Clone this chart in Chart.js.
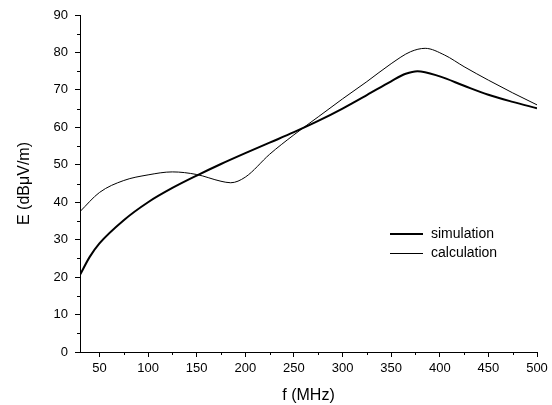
<!DOCTYPE html>
<html>
  <head>
    <title>E vs f</title>
    <script src="https://cdn.jsdelivr.net/npm/chart.js@4/dist/chart.umd.min.js"></script>
  </head>

  <style>
body {
  margin: 0;
  background: #fff;
}

.wrapper {
  width: 552px;
  height: 405px;
}
  </style>

  <body>
    <div class="wrapper">
      <canvas id="myChart" width="552" height="405"></canvas>
    </div>

    <script>

// frequencies (MHz)
var freqSim = [30, 40, 50, 75, 100, 125, 150, 175, 200, 225, 250, 275, 300, 325, 350, 365, 377, 400, 425, 450, 475, 500];
var simulation = [20.6, 25.4, 29.0, 35.2, 40.0, 43.8, 47.1, 50.2, 53.1, 55.9, 58.7, 61.7, 65.0, 68.6, 72.3, 74.3, 75.0, 73.6, 71.1, 68.7, 66.8, 65.1];

var freqCalc = [30, 50, 75, 100, 125, 150, 175, 185, 200, 225, 250, 275, 300, 325, 350, 370, 385, 405, 425, 450, 475, 500];
var calculation = [37.5, 42.6, 45.8, 47.3, 48.1, 47.4, 45.6, 45.2, 46.7, 52.8, 58, 62.8, 67.6, 72.2, 77, 80.2, 81.1, 79.3, 76.2, 72.6, 69.2, 66];

var xTicks = [50, 100, 150, 200, 250, 300, 350, 400, 450, 500];
var xMinor = [75, 125, 175, 225, 275, 325, 375, 425, 475];
var yTicks = [0, 10, 20, 30, 40, 50, 60, 70, 80, 90];
var yMinor = [5, 15, 25, 35, 45, 55, 65, 75, 85];

function pairs(xs, ys) {
  return xs.map(function (x, i) { return {x: x, y: ys[i]}; });
}

// minor ticks + legend inside the plot
var extras = {
  id: 'extras',
  afterDraw: function (c) {
    var ctx = c.ctx;
    var xs = c.scales.x, ys = c.scales.y;
    ctx.save();
    ctx.strokeStyle = '#000';
    ctx.lineWidth = 1;
    ctx.beginPath();
    xMinor.forEach(function (v) {
      var px = Math.round(xs.getPixelForValue(v)) + 0.5;
      ctx.moveTo(px, xs.top);
      ctx.lineTo(px, xs.top + 3);
    });
    yMinor.forEach(function (v) {
      var py = Math.round(ys.getPixelForValue(v)) + 0.5;
      ctx.moveTo(ys.right, py);
      ctx.lineTo(ys.right - 3, py);
    });
    ctx.stroke();

    ctx.font = '14px "Liberation Sans", Arial, sans-serif';
    ctx.fillStyle = '#000';
    ctx.textBaseline = 'middle';
    c.data.datasets.forEach(function (ds, i) {
      var y = 234 + i * 19.5;
      ctx.lineWidth = ds.borderWidth;
      ctx.beginPath();
      ctx.moveTo(390, y);
      ctx.lineTo(423, y);
      ctx.stroke();
      ctx.fillText(ds.label, 431, y);
    });
    ctx.restore();
  }
};

var ctx = document.getElementById('myChart').getContext('2d');
var myChart = new Chart(ctx, {
  type: 'line',
  data: {
    datasets: [
      {
        label: 'simulation',
        data: pairs(freqSim, simulation),
        borderColor: '#000',
        borderWidth: 2,
        pointRadius: 0,
        cubicInterpolationMode: 'monotone',
        fill: false
      },
      {
        label: 'calculation',
        data: pairs(freqCalc, calculation),
        borderColor: '#000',
        borderWidth: 1,
        pointRadius: 0,
        cubicInterpolationMode: 'monotone',
        fill: false
      }
    ]
  },
  options: {
    responsive: false,
    animation: false,
    layout: { padding: { top: 15, right: 15, left: 0, bottom: 0 } },
    plugins: { legend: { display: false }, tooltip: { enabled: false } },
    scales: {
      x: {
        type: 'linear',
        min: 30,
        max: 500,
        afterBuildTicks: function (s) { s.ticks = xTicks.map(function (v) { return {value: v}; }); },
        afterFit: function (s) { s.height = 53; },
        grid: { drawOnChartArea: false, drawTicks: true, tickLength: 5, color: '#000' },
        border: { display: true, color: '#000', width: 1 },
        ticks: { color: '#000', padding: 4, maxRotation: 0, font: { family: '"Liberation Sans", Arial', size: 13 } },
        title: { display: true, text: 'f (MHz)', color: '#000', padding: 0, font: { family: '"Liberation Sans", Arial', size: 16 } }
      },
      y: {
        min: 0,
        max: 90,
        afterBuildTicks: function (s) { s.ticks = yTicks.map(function (v) { return {value: v}; }); },
        afterFit: function (s) { s.width = 80; },
        grid: { drawOnChartArea: false, drawTicks: true, tickLength: 5, color: '#000' },
        border: { display: true, color: '#000', width: 1 },
        ticks: { color: '#000', padding: 7, font: { family: '"Liberation Sans", Arial', size: 13 } },
        title: { display: true, text: 'E (dB\u03bcV/m)', color: '#000', padding: 15, font: { family: '"Liberation Sans", Arial', size: 16 } }
      }
    }
  },
  plugins: [extras]
});

    </script>
  </body>
</html>
